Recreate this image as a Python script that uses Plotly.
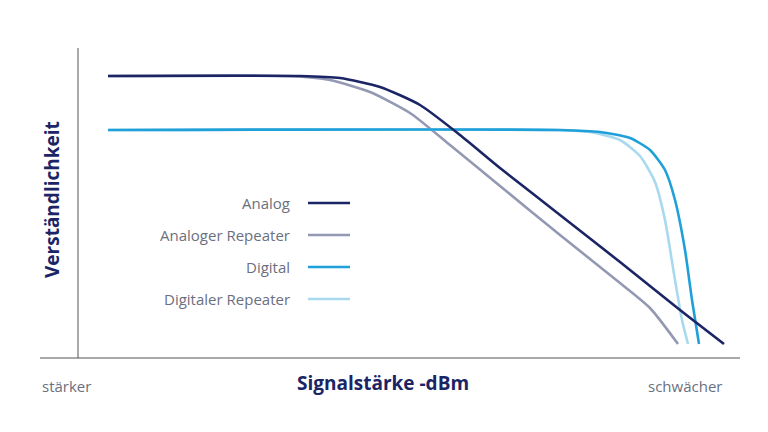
import plotly.graph_objects as go

# curve points (pixel-like units, y grows downward)
analog_x = [108, 300, 340, 380, 420, 460, 500, 560, 620, 680, 724]
analog_y = [76, 76, 78, 87, 105, 135, 168, 215, 262, 310, 344]
anrep_x = [108, 290, 330, 370, 410, 450, 500, 560, 620, 650, 678]
anrep_y = [76, 76, 80, 92, 113, 145, 186, 235, 283, 308, 344]
digital_x = [108, 560, 600, 630, 650, 665, 675, 685, 692, 699]
digital_y = [130, 130, 132, 138, 150, 170, 200, 250, 300, 344]
digrep_x = [108, 555, 590, 620, 640, 655, 665, 675, 682, 688]
digrep_y = [130, 130, 132, 140, 156, 182, 220, 280, 320, 344]

names = ["Analog", "Analoger Repeater", "Digital", "Digitaler Repeater"]
colors = ["#1b2566", "#9499b3", "#1fa0d8", "#a8d9ef"]
legend_y = [203, 235, 267, 299]

fig = go.Figure()
for xs, ys, c in [(anrep_x, anrep_y, colors[1]), (digrep_x, digrep_y, colors[3]),
                  (digital_x, digital_y, colors[2]), (analog_x, analog_y, colors[0])]:
    fig.add_trace(go.Scatter(x=xs, y=ys, mode="lines", line=dict(color=c, width=2.6, shape="spline", smoothing=0.6),
                             showlegend=False, hoverinfo="skip"))

shapes = [
    dict(type="line", x0=78, x1=78, y0=48, y1=358, line=dict(color="#555", width=1)),
    dict(type="line", x0=40, x1=740, y0=358, y1=358, line=dict(color="#555", width=1)),
]
ann = []
for n, c, y in zip(names, colors, legend_y):
    shapes.append(dict(type="line", x0=308, x1=350, y0=y, y1=y, line=dict(color=c, width=2.6)))
    ann.append(dict(x=292, y=y, text=n, showarrow=False, xanchor="right", yanchor="middle",
                    font=dict(size=15, color="#6b6f80")))
ann += [
    dict(x=52, y=200, text="<b>Verständlichkeit</b>", textangle=-90, showarrow=False,
         font=dict(size=19, color="#1b2566")),
    dict(x=383, y=383, text="<b>Signalstärke -dBm</b>", showarrow=False,
         font=dict(size=19, color="#1b2566")),
    dict(x=40, y=386, text="stärker", showarrow=False, xanchor="left", font=dict(size=15, color="#6b6f80")),
    dict(x=724, y=386, text="schwächer", showarrow=False, xanchor="right", font=dict(size=15, color="#6b6f80")),
]

fig.update_layout(
    width=768, height=432, margin=dict(l=0, r=0, t=0, b=0),
    paper_bgcolor="white", plot_bgcolor="white",
    font=dict(family="Open Sans"),
    xaxis=dict(range=[8, 776], visible=False),
    yaxis=dict(range=[440, 8], visible=False),
    shapes=shapes, annotations=ann,
)
fig.write_html("out.html")
